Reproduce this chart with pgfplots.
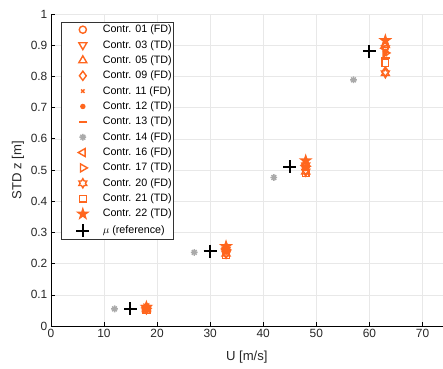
\documentclass[border=0pt]{standalone}
\usepackage{pgfplots}
\pgfplotsset{compat=1.18}
\usepackage{fontspec}
\setmainfont{Liberation Sans}
\definecolor{orng}{RGB}{255,102,30}
\definecolor{gry}{RGB}{170,170,170}
\pgfdeclareplotmark{hexagram}{%
  \pgfpathmoveto{\pgfpointpolar{90}{\pgfplotmarksize}}%
  \pgfpathlineto{\pgfpointpolar{120}{0.577\pgfplotmarksize}}%
  \pgfpathlineto{\pgfpointpolar{150}{\pgfplotmarksize}}%
  \pgfpathlineto{\pgfpointpolar{180}{0.577\pgfplotmarksize}}%
  \pgfpathlineto{\pgfpointpolar{210}{\pgfplotmarksize}}%
  \pgfpathlineto{\pgfpointpolar{240}{0.577\pgfplotmarksize}}%
  \pgfpathlineto{\pgfpointpolar{270}{\pgfplotmarksize}}%
  \pgfpathlineto{\pgfpointpolar{300}{0.577\pgfplotmarksize}}%
  \pgfpathlineto{\pgfpointpolar{330}{\pgfplotmarksize}}%
  \pgfpathlineto{\pgfpointpolar{0}{0.577\pgfplotmarksize}}%
  \pgfpathlineto{\pgfpointpolar{30}{\pgfplotmarksize}}%
  \pgfpathlineto{\pgfpointpolar{60}{0.577\pgfplotmarksize}}%
  \pgfpathclose\pgfusepathqstroke}
\pgfdeclareplotmark{pentagram}{%
  \pgfpathmoveto{\pgfpointpolar{90}{\pgfplotmarksize}}%
  \pgfpathlineto{\pgfpointpolar{126}{0.382\pgfplotmarksize}}%
  \pgfpathlineto{\pgfpointpolar{162}{\pgfplotmarksize}}%
  \pgfpathlineto{\pgfpointpolar{198}{0.382\pgfplotmarksize}}%
  \pgfpathlineto{\pgfpointpolar{234}{\pgfplotmarksize}}%
  \pgfpathlineto{\pgfpointpolar{270}{0.382\pgfplotmarksize}}%
  \pgfpathlineto{\pgfpointpolar{306}{\pgfplotmarksize}}%
  \pgfpathlineto{\pgfpointpolar{342}{0.382\pgfplotmarksize}}%
  \pgfpathlineto{\pgfpointpolar{18}{\pgfplotmarksize}}%
  \pgfpathlineto{\pgfpointpolar{54}{0.382\pgfplotmarksize}}%
  \pgfpathclose\pgfusepathqfillstroke}
\pgfdeclareplotmark{ast8}{%
  \pgfpathmoveto{\pgfpoint{-\pgfplotmarksize}{0pt}}\pgfpathlineto{\pgfpoint{\pgfplotmarksize}{0pt}}%
  \pgfpathmoveto{\pgfpoint{0pt}{-\pgfplotmarksize}}\pgfpathlineto{\pgfpoint{0pt}{\pgfplotmarksize}}%
  \pgfpathmoveto{\pgfpointpolar{45}{\pgfplotmarksize}}\pgfpathlineto{\pgfpointpolar{225}{\pgfplotmarksize}}%
  \pgfpathmoveto{\pgfpointpolar{135}{\pgfplotmarksize}}\pgfpathlineto{\pgfpointpolar{315}{\pgfplotmarksize}}%
  \pgfusepathqstroke}
\begin{document}
\begin{tikzpicture}
\begin{axis}[
  scale only axis, width=393bp, height=313bp,
  xmin=0, xmax=73.8, ymin=0, ymax=1,
  axis x line*=bottom, axis y line*=left,
  axis line style={-, line width=0.6bp},
  xtick={0,10,...,70}, ytick={0,0.1,...,1},
  yticklabels={0,0.1,0.2,0.3,0.4,0.5,0.6,0.7,0.8,0.9,1},
  tick align=inside, major tick length=4bp,
  tick style={line width=0.6bp, black},
  grid=major, grid style={line width=0.5bp, gray!18},
  /pgf/number format/assume math mode=true,
  tick label style={font=\fontsize{12}{14}\selectfont, text=black!85},
  label style={font=\fontsize{13.2}{15}\selectfont, text=black!85},
  xlabel={U [m/s]}, ylabel={STD z [m]},
  xlabel style={at={(axis description cs:0.5,0)}, anchor=center, yshift=-31bp},
  ylabel style={at={(axis description cs:-0.084,0.5)}, anchor=center},
  legend style={at={(axis description cs:0.025,0.974)}, anchor=north west,
    font=\fontsize{10.8}{12}\selectfont, draw=black!80, line width=0.5bp,
    inner xsep=2bp, inner ysep=2.4bp, row sep=5.4bp,
    nodes={inner sep=0pt, text height=8bp, text depth=2bp},
    cells={anchor=west}},
  every axis plot/.append style={only marks, line width=1.4bp,
    legend image code/.code={\path[draw=none,fill=none] (0bp,0bp) -- (40bp,0bp); \draw[##1] plot coordinates {(20bp,0bp)};}},
]
\addplot[orng, mark=o, mark size=3.6bp] coordinates {(18,0.057) (33,0.243) (48,0.510) (63,0.895)};
\addlegendentry{Contr. 01 (FD)}
\addplot[orng, mark=triangle, mark options={rotate=180}, mark size=4.6bp] coordinates {(18,0.058) (33,0.245) (48,0.515) (63,0.890)};
\addlegendentry{Contr. 03 (TD)}
\addplot[orng, mark=triangle, mark size=4.6bp] coordinates {(18,0.060) (33,0.252) (48,0.520) (63,0.900)};
\addlegendentry{Contr. 05 (TD)}
\addplot[orng, mark=diamond, mark size=4.6bp] coordinates {(18,0.055) (33,0.235) (48,0.500) (63,0.815)};
\addlegendentry{Contr. 09 (FD)}
\addplot[orng, mark=x, mark size=2.4bp] coordinates {(18,0.056) (33,0.240) (48,0.505) (63,0.870)};
\addlegendentry{Contr. 11 (FD)}
\addplot[orng, mark=*, mark size=2bp] coordinates {(18,0.057) (33,0.242) (48,0.510) (63,0.880)};
\addlegendentry{Contr. 12 (TD)}
\addplot[orng, mark=-, mark size=4.2bp, line width=1.8bp] coordinates {(18,0.055) (33,0.238) (48,0.500) (63,0.860)};
\addlegendentry{Contr. 13 (TD)}
\addplot[gry, mark=ast8, mark size=3.4bp] coordinates {(12,0.055) (27,0.236) (42,0.476) (57,0.789)};
\addlegendentry{Contr. 14 (FD)}
\addplot[orng, mark=triangle, mark options={rotate=90}, mark size=4.6bp] coordinates {(18,0.058) (33,0.247) (48,0.515) (63,0.890)};
\addlegendentry{Contr. 16 (FD)}
\addplot[orng, mark=triangle, mark options={rotate=-90}, mark size=4.6bp] coordinates {(18,0.057) (33,0.244) (48,0.512) (63,0.875)};
\addlegendentry{Contr. 17 (TD)}
\addplot[orng, mark=hexagram, mark size=4.6bp] coordinates {(18,0.054) (33,0.232) (48,0.495) (63,0.810)};
\addlegendentry{Contr. 20 (FD)}
\addplot[orng, mark=square, mark size=3.4bp] coordinates {(18,0.052) (33,0.228) (48,0.490) (63,0.843)};
\addlegendentry{Contr. 21 (TD)}
\addplot[orng, mark=pentagram, mark size=5bp] coordinates {(18,0.061) (33,0.255) (48,0.530) (63,0.915)};
\addlegendentry{Contr. 22 (TD)}
\addplot[black, mark=+, mark size=6.5bp, line width=2bp] coordinates {(15,0.055) (30,0.240) (45,0.510) (60,0.880)};
\addlegendentry{$\mu$ (reference)}
\end{axis}
\path[use as bounding box] ([xshift=-51bp,yshift=-43bp]current axis.south west) rectangle ([xshift=-1bp,yshift=14bp]current axis.north east);
\end{tikzpicture}
\end{document}
